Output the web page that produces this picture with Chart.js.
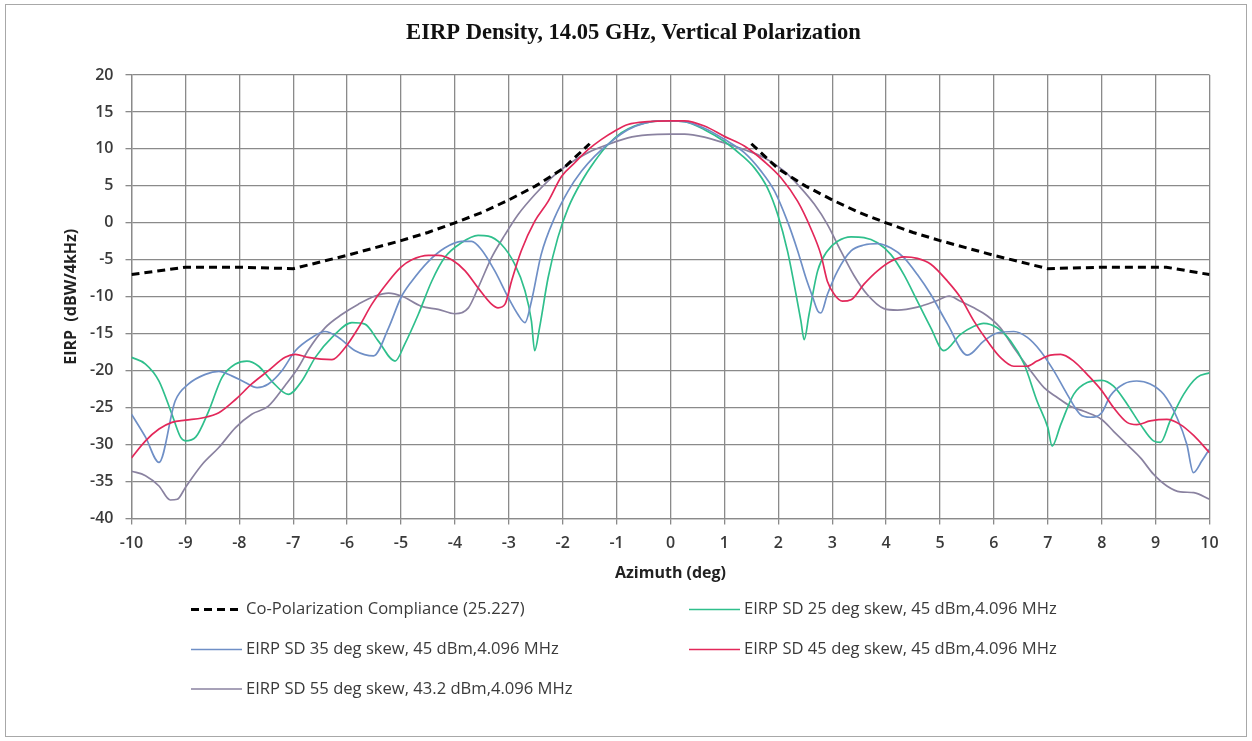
<!DOCTYPE html>
<html>
<head>
<meta charset="utf-8">
<title>EIRP Density, 14.05 GHz, Vertical Polarization</title>
<script src="https://cdn.jsdelivr.net/npm/chart.js@4.4.1/dist/chart.umd.min.js"></script>
<style>
  html, body { margin: 0; padding: 0; background: #fff; }
  #wrap { width: 1252px; height: 741px; }
</style>
</head>
<body>
<div id="wrap"><canvas id="eirpChart" width="1252" height="741"></canvas></div>
<script>
// Co-pol compliance mask (dBW/4kHz); null at boresight leaves the main-beam gap
const compAz   = [-10, -9, -8, -7, -6.5, -6, -5.5, -5, -4.5, -4, -3.5, -3, -2.5, -2, -1.5, 0, 1.5, 2, 2.5, 3, 3.5, 4, 4.5, 5, 5.5, 6, 6.5, 7, 8, 9, 9.2, 10];
const compEirp = [-7.0, -6.0, -6.0, -6.2, -5.3, -4.4, -3.4, -2.4, -1.3, 0.0, 1.4, 3.1, 5.0, 7.3, 10.7, null, 10.7, 7.3, 5.0, 3.1, 1.4, 0.0, -1.3, -2.4, -3.4, -4.4, -5.3, -6.2, -6.0, -6.0, -6.0, -7.0];

// measured EIRP spectral density, 25 deg skew
const sd25Az   = [-10, -9.74, -9.49, -9.25, -9.09, -9.0, -8.81, -8.57, -8.32, -8.07, -7.86, -7.64, -7.4, -7.09, -6.84, -6.59, -6.28, -5.91, -5.67, -5.42, -5.11, -4.93, -4.68, -4.43, -4.19, -3.88, -3.57, -3.38, -3.14, -2.89, -2.7, -2.58, -2.52, -2.43, -2.27, -2.09, -1.9, -1.65, -1.41, -1.16, -0.91, -0.67, -0.42, -0.17, 0, 0.26, 0.63, 1.0, 1.31, 1.56, 1.8, 1.99, 2.17, 2.33, 2.42, 2.48, 2.57, 2.73, 2.91, 3.1, 3.35, 3.59, 3.84, 4.09, 4.33, 4.58, 4.83, 5.07, 5.38, 5.63, 5.81, 6.06, 6.31, 6.56, 6.8, 7.0, 7.08, 7.24, 7.48, 7.73, 8.0, 8.22, 8.47, 8.72, 8.96, 9.09, 9.27, 9.52, 9.77, 10];
const sd25Eirp = [-18.2, -19.1, -21.4, -25.9, -29.0, -29.5, -29.0, -25.5, -20.9, -19.1, -18.7, -19.4, -21.4, -23.2, -21.4, -18.2, -15.5, -13.5, -13.7, -16.0, -18.7, -16.4, -12.4, -7.9, -4.7, -2.7, -1.7, -1.8, -2.9, -5.6, -9.2, -13.3, -17.3, -14.2, -7.4, -2.0, 2.0, 5.6, 8.3, 10.6, 12.2, 13.1, 13.6, 13.8, 13.8, 13.7, 12.6, 11.0, 9.2, 7.4, 4.7, 1.1, -3.8, -9.7, -13.3, -15.8, -12.4, -6.5, -3.8, -2.5, -1.9, -2.0, -2.7, -4.3, -7.0, -10.6, -14.2, -17.3, -15.1, -14.0, -13.6, -14.2, -16.0, -19.1, -24.1, -27.7, -30.2, -27.3, -23.2, -21.6, -21.3, -22.1, -24.5, -27.3, -29.5, -29.7, -26.8, -23.2, -20.9, -20.3];

// 35 deg skew
const sd35Az   = [-10, -9.74, -9.49, -9.19, -8.94, -8.63, -8.38, -8.14, -7.89, -7.67, -7.46, -7.21, -6.96, -6.65, -6.41, -6.16, -5.85, -5.51, -5.23, -5.0, -4.8, -4.49, -4.19, -3.88, -3.69, -3.51, -3.26, -3.01, -2.83, -2.7, -2.58, -2.4, -2.15, -1.9, -1.65, -1.41, -1.1, -0.79, -0.48, -0.17, 0, 0.26, 0.63, 1.0, 1.37, 1.68, 1.93, 2.17, 2.36, 2.51, 2.64, 2.73, 2.79, 2.91, 3.1, 3.35, 3.59, 3.84, 4.09, 4.33, 4.58, 4.83, 5.14, 5.51, 5.81, 6.06, 6.37, 6.62, 6.86, 7.11, 7.36, 7.6, 7.79, 8.0, 8.16, 8.41, 8.65, 8.9, 9.15, 9.4, 9.58, 9.7, 9.86, 10];
const sd35Eirp = [-25.9, -29.0, -32.4, -24.1, -21.8, -20.5, -20.1, -20.7, -21.6, -22.3, -21.8, -20.0, -17.3, -15.5, -14.7, -15.5, -17.3, -18.0, -14.2, -10.1, -7.9, -5.2, -3.4, -2.5, -2.5, -3.6, -6.5, -10.1, -12.4, -13.5, -10.6, -4.3, 0.7, 4.3, 7.0, 9.0, 11.0, 12.6, 13.5, 13.8, 13.8, 13.7, 12.8, 11.3, 9.5, 7.0, 4.3, 0.2, -3.8, -7.4, -10.1, -11.9, -12.2, -9.7, -6.5, -3.8, -3.0, -2.8, -3.4, -4.7, -7.0, -9.7, -13.7, -17.9, -16.0, -14.9, -14.7, -15.5, -17.3, -20.0, -23.2, -25.9, -26.3, -25.7, -23.4, -21.8, -21.4, -21.8, -23.2, -26.4, -30.0, -33.8, -32.2, -30.6];

// 45 deg skew
const sd45Az   = [-10, -9.74, -9.49, -9.25, -9.0, -8.69, -8.38, -8.07, -7.77, -7.46, -7.15, -6.96, -6.72, -6.28, -6.04, -5.79, -5.54, -5.23, -5.0, -4.8, -4.49, -4.31, -4.06, -3.81, -3.57, -3.32, -3.2, -3.07, -2.95, -2.77, -2.52, -2.27, -2.02, -1.78, -1.53, -1.28, -1.04, -0.79, -0.42, 0, 0.26, 0.63, 1.0, 1.37, 1.74, 2.05, 2.36, 2.6, 2.79, 2.91, 3.04, 3.19, 3.35, 3.59, 3.84, 4.09, 4.33, 4.58, 4.83, 5.14, 5.38, 5.63, 5.88, 6.12, 6.37, 6.62, 6.8, 7.05, 7.24, 7.48, 7.73, 8.0, 8.22, 8.47, 8.65, 8.9, 9.21, 9.46, 9.71, 10];
const sd45Eirp = [-31.8, -29.5, -27.9, -27.0, -26.7, -26.4, -25.7, -23.9, -21.8, -20.0, -18.2, -17.8, -18.2, -18.5, -16.9, -14.2, -11.0, -7.9, -6.0, -5.0, -4.4, -4.4, -5.0, -6.5, -8.8, -11.0, -11.5, -11.0, -7.9, -3.8, 0.2, 2.9, 6.3, 8.1, 9.9, 11.3, 12.4, 13.3, 13.7, 13.8, 13.8, 13.1, 11.7, 10.4, 8.3, 6.1, 2.9, -0.7, -4.3, -7.9, -9.7, -10.6, -10.4, -8.3, -6.5, -5.2, -4.6, -4.8, -5.6, -7.9, -10.1, -13.3, -16.0, -18.2, -19.4, -19.4, -18.7, -17.9, -17.8, -18.7, -20.5, -22.7, -25.0, -27.0, -27.3, -26.8, -26.6, -27.3, -28.8, -31.1];

// 55 deg skew, 43.2 dBm
const sd55Az   = [-10, -9.74, -9.49, -9.28, -9.15, -9.0, -8.69, -8.38, -8.07, -7.77, -7.46, -7.15, -6.9, -6.72, -6.41, -6.1, -5.79, -5.48, -5.23, -4.99, -4.62, -4.31, -4.0, -3.75, -3.57, -3.32, -3.07, -2.83, -2.52, -2.21, -1.9, -1.53, -1.16, -0.79, -0.42, 0, 0.26, 0.63, 1.0, 1.37, 1.74, 2.11, 2.42, 2.67, 2.91, 3.16, 3.41, 3.65, 3.96, 4.21, 4.58, 4.95, 5.17, 5.38, 5.63, 5.88, 6.12, 6.37, 6.68, 6.93, 7.17, 7.42, 7.67, 8.0, 8.22, 8.47, 8.72, 8.96, 9.21, 9.46, 9.71, 10];
const sd55Eirp = [-33.6, -34.2, -35.6, -37.5, -37.4, -35.8, -32.7, -30.4, -27.7, -25.9, -24.8, -22.0, -19.5, -17.2, -14.2, -12.4, -11.0, -9.9, -9.5, -9.9, -11.3, -11.7, -12.3, -11.5, -8.8, -4.7, -1.6, 1.1, 3.8, 6.1, 7.9, 9.5, 10.6, 11.5, 11.9, 12.0, 12.0, 11.6, 10.8, 9.9, 8.8, 7.0, 4.7, 2.5, -0.2, -3.8, -7.2, -9.7, -11.6, -11.8, -11.4, -10.5, -9.9, -10.6, -11.5, -12.6, -14.2, -16.9, -20.0, -22.3, -23.6, -24.8, -25.5, -26.6, -28.2, -30.0, -31.8, -34.0, -35.6, -36.4, -36.5, -37.4];

const AZ_MIN = -10, AZ_MAX = 10, AZ_STEP = 1;
const EIRP_MIN = -40, EIRP_MAX = 20, EIRP_STEP = 5;

const toPoints = (xs, ys) => xs.map((x, i) => ({ x: x, y: ys[i] }));

const GRID = '#8a8a8a';
const TEXT = '#3a3a3a';
const SANS = '"Open Sans", sans-serif';

function series(label, xs, ys, color, order) {
    return {
        label: label,
        data: toPoints(xs, ys),
        borderColor: color,
        borderWidth: 1.7,
        pointRadius: 0,
        cubicInterpolationMode: 'monotone',
        order: order
    };
}

// white page with a thin frame around the whole chart
const framePlugin = {
    id: 'frame',
    beforeDraw(chart) {
        const ctx = chart.ctx;
        ctx.save();
        ctx.fillStyle = '#fff';
        ctx.fillRect(0, 0, chart.width, chart.height);
        ctx.strokeStyle = '#a8a8a8';
        ctx.lineWidth = 1;
        ctx.strokeRect(5.5, 4.5, chart.width - 11, chart.height - 9);
        ctx.restore();
    }
};

// two-column legend under the axis title
const legendPos = {
    cols: [191, 689],
    rows: [609.5, 649.5, 689],
    lineLen: 51,
    gap: 4
};
const gridLegendPlugin = {
    id: 'gridLegend',
    afterDraw(chart) {
        const ctx = chart.ctx;
        ctx.save();
        ctx.font = '16.6px ' + SANS;
        ctx.textBaseline = 'middle';
        ctx.fillStyle = TEXT;
        chart.data.datasets.forEach((ds, i) => {
            const x = legendPos.cols[i % 2];
            const y = legendPos.rows[Math.floor(i / 2)];
            ctx.beginPath();
            ctx.setLineDash(ds.borderDash || []);
            ctx.strokeStyle = ds.borderColor;
            ctx.lineWidth = ds.borderWidth;
            ctx.moveTo(x, y);
            ctx.lineTo(x + legendPos.lineLen, y);
            ctx.stroke();
            ctx.setLineDash([]);
            ctx.fillText(ds.label, x + legendPos.lineLen + legendPos.gap, y);
        });
        ctx.restore();
    }
};

const ctx = document.getElementById('eirpChart').getContext('2d');
new Chart(ctx, {
    type: 'line',
    data: {
        datasets: [
            {
                label: 'Co-Polarization Compliance (25.227)',
                data: toPoints(compAz, compEirp),
                borderColor: '#000',
                borderWidth: 3,
                borderDash: [8, 5],
                pointRadius: 0,
                tension: 0,
                spanGaps: false,
                order: 0
            },
            series('EIRP SD 25 deg skew, 45 dBm,4.096 MHz', sd25Az, sd25Eirp, '#2fbf8c', 3),
            series('EIRP SD 35 deg skew, 45 dBm,4.096 MHz', sd35Az, sd35Eirp, '#6f8fc6', 2),
            series('EIRP SD 45 deg skew, 45 dBm,4.096 MHz', sd45Az, sd45Eirp, '#e3285a', 1),
            series('EIRP SD 55 deg skew, 43.2 dBm,4.096 MHz', sd55Az, sd55Eirp, '#8a82a0', 4)
        ]
    },
    options: {
        responsive: false,
        animation: false,
        layout: { padding: { left: 57.4, right: 42.5, top: 0, bottom: 154.1 } },
        plugins: {
            legend: { display: false },
            tooltip: { enabled: false },
            title: {
                display: true,
                text: 'EIRP Density, 14.05 GHz, Vertical Polarization',
                color: '#111',
                font: { family: '"Liberation Serif", "DejaVu Serif", serif', size: 22.6, weight: 'bold' },
                padding: { top: 19.4, bottom: 28.5 }
            }
        },
        scales: {
            x: {
                type: 'linear',
                min: AZ_MIN,
                max: AZ_MAX,
                afterFit: s => { s.height = 68.4; },
                ticks: {
                    stepSize: AZ_STEP,
                    padding: 9,
                    color: TEXT,
                    font: { family: SANS, size: 16, weight: '600' }
                },
                grid: { color: GRID, lineWidth: 1.3, tickLength: 6 },
                border: { color: GRID, width: 1.3 },
                title: {
                    display: true,
                    text: 'Azimuth (deg)',
                    color: '#222',
                    font: { family: SANS, size: 16, weight: 'bold' },
                    padding: 4
                }
            },
            y: {
                min: EIRP_MIN,
                max: EIRP_MAX,
                afterFit: s => { s.width = 74.1; },
                ticks: {
                    stepSize: EIRP_STEP,
                    padding: 12,
                    color: TEXT,
                    font: { family: SANS, size: 16, weight: '600' }
                },
                grid: { color: GRID, lineWidth: 1.3, tickLength: 6 },
                border: { color: GRID, width: 1.3 },
                title: {
                    display: true,
                    text: 'EIRP  (dBW/4kHz)',
                    color: '#222',
                    font: { family: SANS, size: 16, weight: 'bold' },
                    padding: 4
                }
            }
        }
    },
    plugins: [framePlugin, gridLegendPlugin]
});
</script>
</body>
</html>
